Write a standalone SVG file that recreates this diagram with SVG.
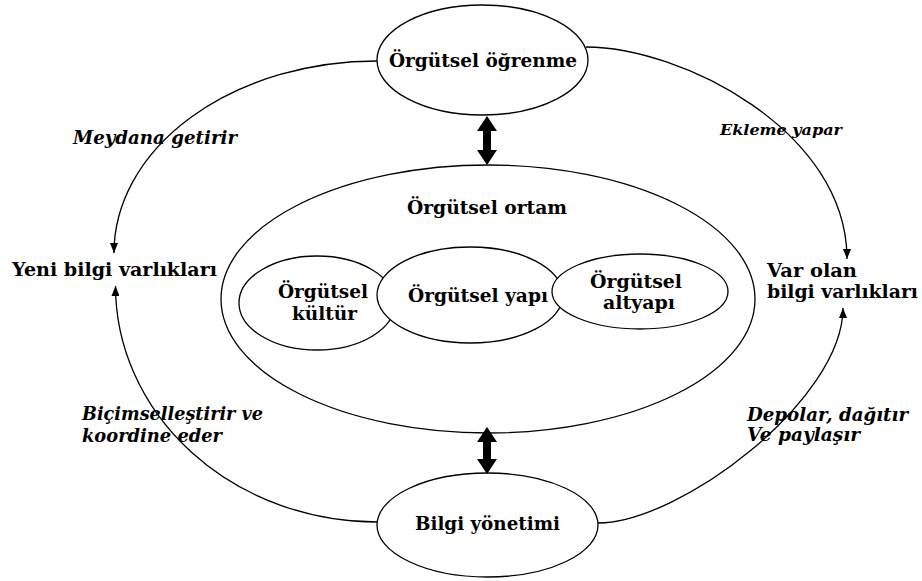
<svg xmlns="http://www.w3.org/2000/svg" width="922" height="581" viewBox="0 0 922 581" font-family="'DejaVu Serif', 'Liberation Serif', serif">
<style>
.shape{fill:#fff;stroke:#000;stroke-width:1.3}
.line{fill:none;stroke:#000;stroke-width:1.3}
.b{font-weight:bold;font-size:19px;fill:#000}
.i{font-weight:bold;font-style:italic;font-size:18px;fill:#000}
.s{font-size:15px}
.dbl{fill:#000;stroke:none}
</style>
<defs>
<marker id="ah" markerUnits="userSpaceOnUse" markerWidth="10" markerHeight="8" refX="10" refY="4" orient="auto">
<path d="M0,0 L10,4 L0,8 z" fill="#000"/>
</marker>
</defs>
<rect width="922" height="581" fill="#fff"/>

<g id="connectors">
<path class="line" d="M377,61 A263,192 0 0 0 114,253" marker-end="url(#ah)"/>
<path class="line" d="M377,522 A262,236 0 0 1 115.5,286" marker-end="url(#ah)"/>
<path class="line" d="M586,47 C680,47 847,130 847,259" marker-end="url(#ah)"/>
<path class="line" d="M598,523 C680,523 843,400 843,308" marker-end="url(#ah)"/>
</g>

<g id="ortam">
<ellipse class="shape" cx="488" cy="299" rx="267" ry="134"/>
<text class="b" x="407" y="214" textLength="160" lengthAdjust="spacingAndGlyphs">Örgütsel ortam</text>
</g>

<g id="kultur">
<ellipse class="shape" cx="317" cy="303" rx="78" ry="47"/>
<text class="b" x="278" y="298" textLength="90" lengthAdjust="spacingAndGlyphs">Örgütsel</text>
<text class="b" x="292" y="320" textLength="65" lengthAdjust="spacingAndGlyphs">kültür</text>
</g>

<g id="yapi">
<ellipse class="shape" cx="470" cy="295" rx="93" ry="48"/>
<text class="b" x="408" y="302" textLength="140" lengthAdjust="spacingAndGlyphs">Örgütsel yapı</text>
</g>

<g id="altyapi">
<ellipse class="shape" cx="640" cy="291.5" rx="88" ry="37.5"/>
<text class="b" x="590" y="288" textLength="92" lengthAdjust="spacingAndGlyphs">Örgütsel</text>
<text class="b" x="603" y="309" textLength="72" lengthAdjust="spacingAndGlyphs">altyapı</text>
</g>

<g id="ogrenme">
<ellipse class="shape" cx="482.5" cy="60" rx="105.5" ry="55"/>
<text class="b" x="389" y="67" textLength="188" lengthAdjust="spacingAndGlyphs">Örgütsel öğrenme</text>
</g>

<g id="bilgi-yonetimi">
<ellipse class="shape" cx="487.5" cy="525" rx="110.5" ry="52"/>
<text class="b" x="415" y="530" textLength="145" lengthAdjust="spacingAndGlyphs">Bilgi yönetimi</text>
</g>

<g id="double-arrows">
<polygon class="dbl" points="487,116 497,131 491,131 491,150 497,150 487,165 477,150 483,150 483,131 477,131"/>
<polygon class="dbl" points="487,427 497,442 491,442 491,459 497,459 487,474 477,459 483,459 483,442 477,442"/>
</g>

<g id="yeni-bilgi">
<text class="b" x="12" y="276" textLength="205" lengthAdjust="spacingAndGlyphs">Yeni bilgi varlıkları</text>
</g>

<g id="var-olan">
<text class="b" x="767" y="277" textLength="90" lengthAdjust="spacingAndGlyphs">Var olan</text>
<text class="b" x="767" y="298" textLength="151" lengthAdjust="spacingAndGlyphs">bilgi varlıkları</text>
</g>

<g id="labels">
<text class="i" x="73" y="144" textLength="164" lengthAdjust="spacingAndGlyphs">Meydana getirir</text>
<text class="i s" x="720" y="135" textLength="122" lengthAdjust="spacingAndGlyphs">Ekleme yapar</text>
<text class="i" x="82" y="420" textLength="181" lengthAdjust="spacingAndGlyphs">Biçimselleştirir ve</text>
<text class="i" x="82" y="442" textLength="140" lengthAdjust="spacingAndGlyphs">koordine eder</text>
<text class="i" x="747" y="421" textLength="161" lengthAdjust="spacingAndGlyphs">Depolar, dağıtır</text>
<text class="i" x="747" y="441" textLength="113" lengthAdjust="spacingAndGlyphs">Ve paylaşır</text>
</g>
</svg>
